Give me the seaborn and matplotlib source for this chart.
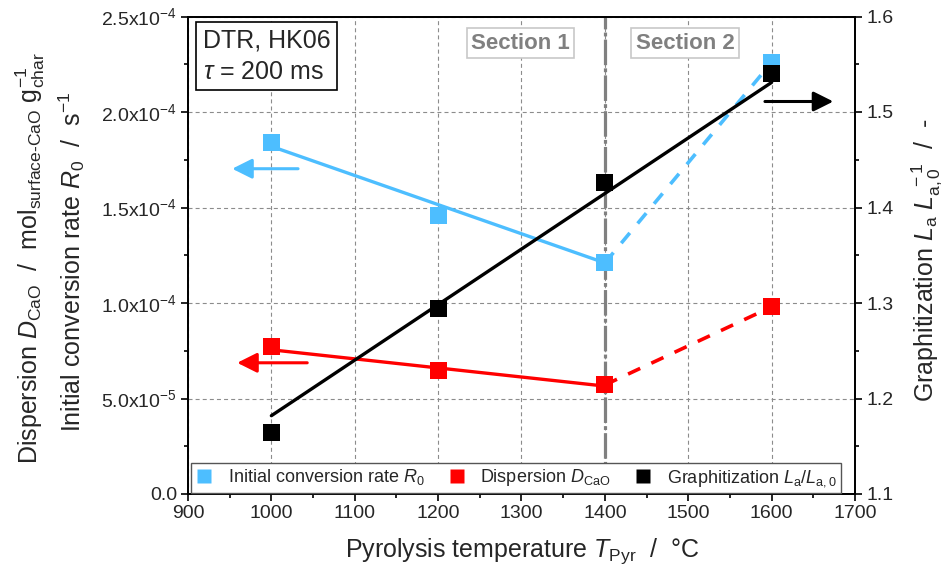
import numpy as np
import pandas as pd
import seaborn as sns
import matplotlib
matplotlib.use("Agg")
import matplotlib.pyplot as plt
from matplotlib.lines import Line2D
from matplotlib.ticker import FuncFormatter, MultipleLocator

# Measured values
temps = [1000, 1200, 1400, 1600]
rate_r0 = [1.84e-4, 1.46e-4, 1.21e-4, 2.26e-4]        # initial conversion rate R0 / s^-1
disp_cao = [7.70e-5, 6.45e-5, 5.71e-5, 9.80e-5]       # dispersion D_CaO
graph_la = [1.164, 1.294, 1.426, 1.540]               # graphitization La/La,0

# Linear trends (section 1 and overall)
r0_fit_t = [1000, 1400]
r0_fit = [1.82e-4, 1.21e-4]
disp_fit_t = [1000, 1400]
disp_fit = [7.55e-5, 5.65e-5]
graph_fit_t = [1000, 1600]
graph_fit = [1.182, 1.531]

BLUE = "#4DBEFF"
RED = "#FF0000"
BLACK = "#000000"

sns.set_theme(style="ticks")
plt.rcParams["font.family"] = ["Liberation Sans", "DejaVu Sans"]
plt.rcParams["mathtext.fontset"] = "custom"
plt.rcParams["mathtext.rm"] = "Liberation Sans"
plt.rcParams["mathtext.it"] = "Liberation Sans:italic"
plt.rcParams["mathtext.bf"] = "Liberation Sans:bold"

fig = plt.figure(figsize=(9.43, 5.71), dpi=100)
ax = fig.add_axes([188 / 943, 1 - 494 / 571, (855 - 188) / 943, (494 - 16.5) / 571])
ax2 = ax.twinx()

df = pd.DataFrame({"T": temps, "R0": rate_r0, "D": disp_cao, "G": graph_la})

# grid
ax.set_axisbelow(True)
ax.grid(True, color="#8c8c8c", lw=0.8, linestyle=(0, (3.6, 2.8)))

# section divider
ax.axvline(1400, color="#808080", lw=2.3, linestyle=(0, (8, 1.0, 1.2, 1.0)), zorder=1.5)

# trend lines, left axis
sns.lineplot(x=r0_fit_t, y=r0_fit, ax=ax, color=BLUE, lw=2.4, zorder=2)
sns.lineplot(x=[temps[2], temps[3]], y=[rate_r0[2], rate_r0[3]], ax=ax, color=BLUE,
             lw=2.6, zorder=2).lines[-1].set_linestyle((0, (3.7, 3.4)))
sns.lineplot(x=disp_fit_t, y=disp_fit, ax=ax, color=RED, lw=2.4, zorder=2)
sns.lineplot(x=[temps[2], temps[3]], y=[disp_cao[2], disp_cao[3]], ax=ax, color=RED,
             lw=2.6, zorder=2).lines[-1].set_linestyle((0, (3.7, 3.4)))

sns.scatterplot(data=df, x="T", y="R0", ax=ax, marker="s", s=150, color=BLUE,
                edgecolor="none", zorder=3)
sns.scatterplot(data=df, x="T", y="D", ax=ax, marker="s", s=150, color=RED,
                edgecolor="none", zorder=3)

# right axis
sns.lineplot(x=graph_fit_t, y=graph_fit, ax=ax2, color=BLACK, lw=2.4, zorder=2)
sns.scatterplot(data=df, x="T", y="G", ax=ax2, marker="s", s=150, color=BLACK,
                edgecolor="none", zorder=3)

# axis arrows
arrow_style = "-|>,head_length=0.6,head_width=0.3"
ax.annotate("", xy=(953, 1.703e-4), xytext=(1032, 1.703e-4),
            arrowprops=dict(arrowstyle=arrow_style, color=BLUE, lw=2.2,
                            mutation_scale=20, shrinkA=0, shrinkB=0))
ax.annotate("", xy=(959, 6.87e-5), xytext=(1043, 6.87e-5),
            arrowprops=dict(arrowstyle=arrow_style, color=RED, lw=2.2,
                            mutation_scale=20, shrinkA=0, shrinkB=0))
ax2.annotate("", xy=(1674, 1.511), xytext=(1592, 1.511),
             arrowprops=dict(arrowstyle=arrow_style, color=BLACK, lw=2.2,
                             mutation_scale=20, shrinkA=0, shrinkB=0))

# limits and ticks
ax.set_xlim(900, 1700)
ax.set_ylim(0, 2.5e-4)
ax2.set_ylim(1.1, 1.6)
ax.xaxis.set_major_locator(MultipleLocator(100))
ax.xaxis.set_minor_locator(MultipleLocator(50))
ax.yaxis.set_major_locator(MultipleLocator(5e-5))
ax.yaxis.set_minor_locator(MultipleLocator(2.5e-5))
ax2.yaxis.set_major_locator(MultipleLocator(0.1))
ax2.yaxis.set_minor_locator(MultipleLocator(0.05))


def sci_fmt(v, pos):
    if abs(v) < 1e-12:
        return "0.0"
    m, e = f"{v:.1e}".split("e")
    return f"{m}x10$^{{{int(e)}}}$"


ax.yaxis.set_major_formatter(FuncFormatter(sci_fmt))
ax2.yaxis.set_major_formatter(FuncFormatter(lambda v, p: f"{v:.1f}"))

for a in (ax, ax2):
    a.tick_params(which="major", direction="out", length=5, width=1.2,
                  labelsize=14, color="black", pad=3)
    a.tick_params(which="minor", direction="out", length=3, width=1.2, color="black")
    for s in a.spines.values():
        s.set_color("black")
        s.set_linewidth(1.3)
ax.set_xlabel("")
ax.set_ylabel("")
ax2.set_ylabel("")

# axis titles
fig.text((343 + 702) / 2 / 943, 1 - 551 / 571,
         r"Pyrolysis temperature $\mathit{T}_{\mathrm{Pyr}}$  /  °C",
         ha="center", va="center", fontsize=18)
fig.text(30 / 943, 1 - 258 / 571,
         r"Dispersion $\mathit{D}_{\mathrm{CaO}}$  /  mol$_{\mathrm{surface\text{-}CaO}}$ g$_{\mathrm{char}}^{-1}$",
         rotation=90, ha="center", va="center", fontsize=18)
fig.text(72 / 943, 1 - 262 / 571,
         r"Initial conversion rate $\mathit{R}_0$  /  s$^{-1}$",
         rotation=90, ha="center", va="center", fontsize=18)
fig.text(927 / 943, 1 - 260 / 571,
         r"Graphitization $\mathit{L}_{\mathrm{a}}$ $\mathit{L}_{\mathrm{a,0}}^{\ -1}$  /  -",
         rotation=90, ha="center", va="center", fontsize=18)

# annotation boxes
ax2.text(0.022, 0.975, "DTR, HK06\n" + r"$\mathit{\tau}$ = 200 ms", transform=ax2.transAxes,
         ha="left", va="top", fontsize=18, linespacing=1.4,
         bbox=dict(boxstyle="square,pad=0.25", fc="white", ec="black", lw=1.2), zorder=6)
for xt, label in [(1299, "Section 1"), (1496, "Section 2")]:
    ax2.text(xt, 1.572, label, ha="center", va="center", fontsize=16, fontweight="bold",
             color="#808080",
             bbox=dict(boxstyle="square,pad=0.2", fc="white", ec="#c8c8c8", lw=1.2), zorder=6)

# legend
handles = [
    Line2D([], [], ls="none", marker="s", ms=10, color=BLUE, mec="none"),
    Line2D([], [], ls="none", marker="s", ms=10, color=RED, mec="none"),
    Line2D([], [], ls="none", marker="s", ms=10, color=BLACK, mec="none"),
]
labels = [r"Initial conversion rate $\mathit{R}_0$",
          r"Dispersion $\mathit{D}_{\mathrm{CaO}}$",
          r"Graphitization $\mathit{L}_{\mathrm{a}}/\mathit{L}_{\mathrm{a,0}}$"]
leg = ax2.legend(handles, labels, ncol=3, loc="lower left",
                 bbox_to_anchor=(0.004, 0.002, 0.975, 0.06), mode="expand",
                 fontsize=13, frameon=True, fancybox=False, edgecolor="#555555",
                 framealpha=1, handletextpad=0.8, columnspacing=0.6,
                 borderpad=0.25, handlelength=1.0, borderaxespad=0)
leg.get_frame().set_linewidth(1.0)
leg.set_zorder(7)

fig.savefig("out.png", dpi=100)
